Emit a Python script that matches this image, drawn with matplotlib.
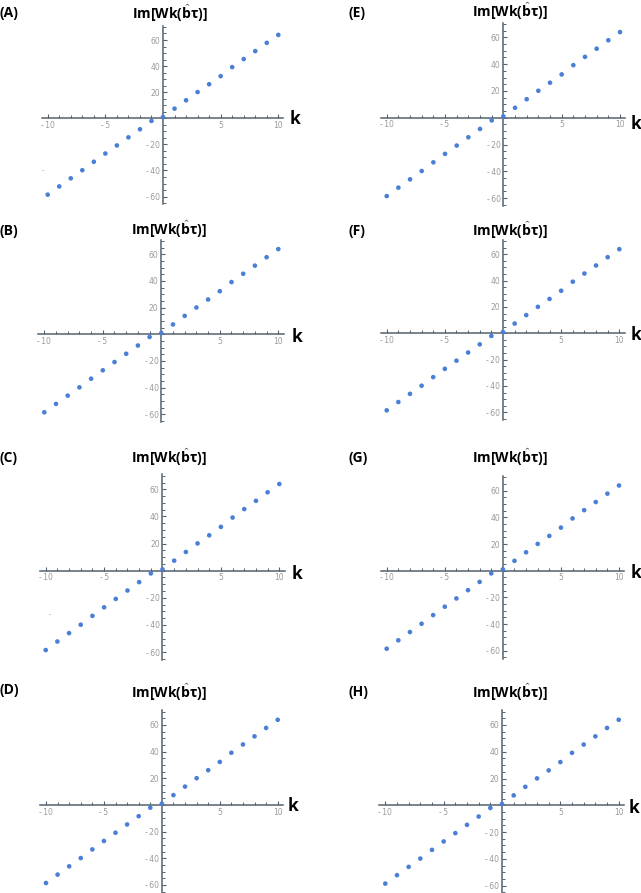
import matplotlib
matplotlib.use("Agg")
import matplotlib.pyplot as plt
import numpy as np

plt.rcParams["mathtext.fontset"] = "custom"
plt.rcParams["mathtext.rm"] = "Open Sans:bold"
plt.rcParams["mathtext.it"] = "Open Sans:bold"
plt.rcParams["mathtext.bf"] = "Open Sans:bold"

# ---- data ----
panel_labels = ["(A)", "(B)", "(C)", "(D)", "(E)", "(F)", "(G)", "(H)"]
k_values = [-10, -9, -8, -7, -6, -5, -4, -3, -2, -1, 0, 1, 2, 3, 4, 5, 6, 7, 8, 9, 10]
im_values = [-58.5, -52.2, -46.0, -39.8, -33.3, -27.0, -20.8, -14.6, -8.4, -2.0,
             1.0, 7.4, 13.8, 20.1, 26.1, 32.3, 39.2, 45.4, 51.5, 57.8, 63.9]
x_tick_values = [-10, -5, 5, 10]
x_tick_labels = ["-\u200910", "-\u20095", "5", "10"]
y_tick_values = [-60, -40, -20, 20, 40, 60]
y_tick_labels = ["-\u200960", "-\u200940", "-\u200920", "20", "40", "60"]
title_text = r"Im[Wk($\mathrm{\hat{b}}$τ)]"
axis_label = "k"

# ---- layout (pixels in a 641x893 figure) ----
W, H = 641, 893
XLIM = (-10.5, 10.45)
YLIM = (-66, 71)
# (px of x=-10, px of x=10, py of y=0, py of y=60)
panel_geom = [
    (47.7, 278.3, 118.3, 40.0),
    (44.3, 278.3, 334.3, 254.3),
    (45.7, 279.3, 570.7, 489.3),
    (46.0, 277.7, 805.0, 725.0),
    (386.7, 620.0, 117.7, 37.3),
    (386.7, 619.3, 333.3, 254.3),
    (386.7, 619.0, 570.7, 490.7),
    (385.3, 618.7, 805.3, 725.0),
]
title_pos = [(170, 13), (169, 229), (169, 457), (169, 692),
             (510, 11), (510, 230), (510, 457), (510, 692)]
label_pos = [(0, 13), (0, 231), (0, 458), (0, 690),
             (348, 13), (348, 231), (348, 458), (348, 692)]
k_pos = [(295, 119), (297, 337), (297, 574), (293, 806),
         (636, 124), (636, 335), (636, 573), (634, 808)]

AXIS_COLOR = "#55626d"
TICK_LABEL_COLOR = "#999999"
POINT_COLOR = "#4a7fd6"

fig = plt.figure(figsize=(W / 100, H / 100), dpi=100)
fig.patch.set_facecolor("white")

def fx(x):
    return x / W

def fy(y):
    return 1 - y / H

for i in range(8):
    pa, pb, py0, py60 = panel_geom[i]
    sx = (pb - pa) / 20.0
    sy = (py0 - py60) / 60.0
    x0px = pa + (XLIM[0] + 10) * sx
    wpx = (XLIM[1] - XLIM[0]) * sx
    toppx = py0 - YLIM[1] * sy
    hpx = (YLIM[1] - YLIM[0]) * sy
    ax = fig.add_axes([x0px / W, 1 - (toppx + hpx) / H, wpx / W, hpx / H])
    ax.set_xlim(*XLIM)
    ax.set_ylim(*YLIM)
    ax.patch.set_alpha(0)
    for s in ["top", "right"]:
        ax.spines[s].set_visible(False)
    ax.spines["left"].set_position(("data", 0))
    ax.spines["bottom"].set_position(("data", 0))
    for s in ["left", "bottom"]:
        ax.spines[s].set_color(AXIS_COLOR)
        ax.spines[s].set_linewidth(1.1)
    ax.set_xticks(x_tick_values)
    ax.set_xticklabels(x_tick_labels)
    ax.set_yticks(y_tick_values)
    ax.set_yticklabels(y_tick_labels)
    ax.set_xticks(np.arange(-10, 11, 1), minor=True)
    ax.set_yticks(np.arange(-65, 71, 5), minor=True)
    ax.tick_params(axis="x", which="major", direction="in", length=3, width=0.8,
                   color=AXIS_COLOR, labelsize=5.5, labelcolor=TICK_LABEL_COLOR, pad=2)
    ax.tick_params(axis="x", which="minor", direction="in", length=2, width=0.7,
                   color=AXIS_COLOR)
    ax.tick_params(axis="y", which="major", direction="in", length=3, width=0.8,
                   color=AXIS_COLOR, labelsize=5.5, labelcolor=TICK_LABEL_COLOR, pad=2)
    ax.tick_params(axis="y", which="minor", direction="in", length=1.8, width=0.7,
                   color=AXIS_COLOR)
    for lab in ax.get_xticklabels() + ax.get_yticklabels():
        lab.set_family(["DejaVu Sans"])
    ax.scatter(k_values, im_values, s=11, color=POINT_COLOR, zorder=5,
               edgecolors="none", clip_on=False)

    tx, ty = title_pos[i]
    fig.text(fx(tx), fy(ty), title_text, ha="center", va="center",
             fontsize=10, fontweight="bold", family=["Open Sans", "DejaVu Sans"])
    lx, ly = label_pos[i]
    fig.text(fx(lx), fy(ly), panel_labels[i], ha="left", va="center",
             fontsize=10, fontweight="bold", family=["Open Sans", "DejaVu Sans"])
    kx, ky = k_pos[i]
    fig.text(fx(kx), fy(ky), axis_label, ha="center", va="center",
             fontsize=12.5, fontweight="bold", family=["Open Sans", "DejaVu Sans"])

# stray marks present in the source image
fig.text(fx(43), fy(170), "-", ha="center", va="center", fontsize=5, color="#999999")
fig.text(fx(50), fy(614), "-", ha="center", va="center", fontsize=5, color="#999999")

fig.savefig("out.png", dpi=100)
